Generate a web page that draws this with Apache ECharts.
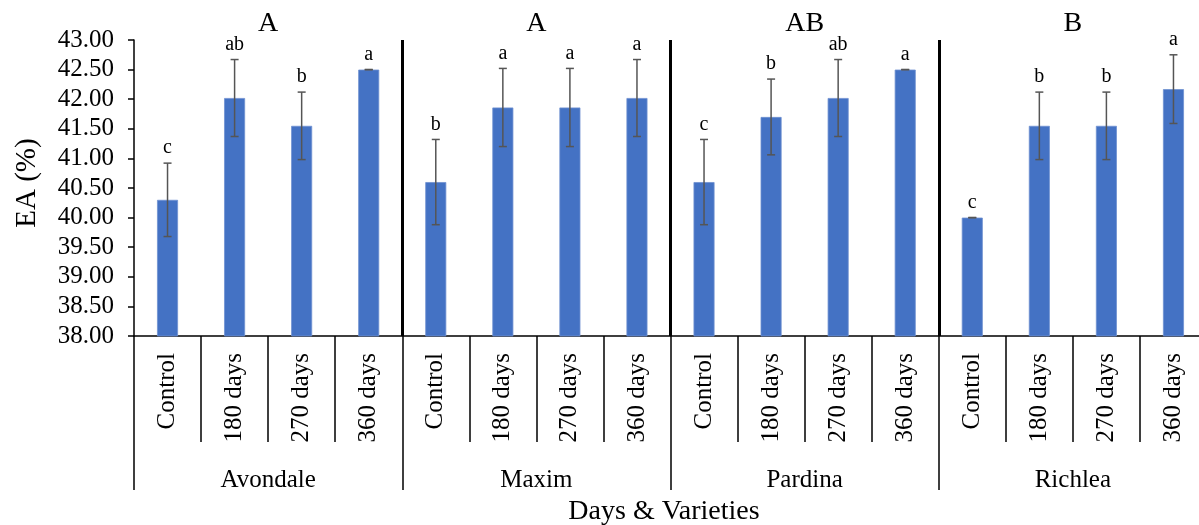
<!DOCTYPE html>
<html>
<head>
<meta charset="utf-8">
<script src="https://cdn.jsdelivr.net/npm/echarts@6/dist/echarts.min.js"></script>
<style>
  html, body { margin: 0; padding: 0; background: #fff; }
  #chart { width: 1199px; height: 525px; }
</style>
</head>
<body>
<div id="chart"></div>
<script>
// Storage periods within each variety
const days = ['Control', '180 days', '270 days', '360 days'];
const varieties = ['Avondale', 'Maxim', 'Pardina', 'Richlea'];
// Letters for the variety comparison
const varietyGroups = ['A', 'A', 'AB', 'B'];

// EA (%) means, standard deviations and significance letters, in variety order
const means = [40.30, 42.02, 41.55, 42.50,
               40.60, 41.86, 41.86, 42.02,
               40.60, 41.70, 42.02, 42.50,
               40.00, 41.55, 41.55, 42.17];
const errors = [0.62, 0.65, 0.57, 0.00,
                0.72, 0.66, 0.66, 0.65,
                0.72, 0.64, 0.65, 0.00,
                0.00, 0.57, 0.57, 0.58];
const letters = ['c', 'ab', 'b', 'a',
                 'b', 'a', 'a', 'a',
                 'c', 'b', 'ab', 'a',
                 'c', 'b', 'b', 'a'];

const yTicks = { min: 38, max: 43, step: 0.5 };

const categories = [];
varieties.forEach(() => days.forEach(d => categories.push(d)));
const errData = means.map((m, i) => [i, m - errors[i], m + errors[i], letters[i]]);

const SERIF = '"Liberation Serif", "Times New Roman", serif';

const chart = echarts.init(document.getElementById('chart'));
chart.setOption({
  animation: false,
  backgroundColor: '#ffffff',
  // the last category runs slightly past the right edge of the page
  grid: {
    left: 134, top: 40, bottom: 189, width: 1073,
    containLabel: false, outerBoundsMode: 'none'
  },
  xAxis: [
    {
      type: 'category',
      data: categories,
      position: 'bottom',
      axisLine: { show: true, lineStyle: { color: '#000', width: 1.5 } },
      axisTick: { show: true, interval: 0, length: 106, lineStyle: { color: '#000', width: 1.5 } },
      axisLabel: {
        interval: 0, rotate: 90, margin: 17,
        fontFamily: SERIF, fontSize: 25, color: '#000'
      },
      splitLine: { show: false }
    },
    {
      type: 'category',
      data: varieties,
      position: 'bottom',
      axisLine: { show: false },
      axisTick: { show: true, interval: 0, length: 154, lineStyle: { color: '#000', width: 1.5 } },
      axisLabel: { interval: 0, margin: 132, fontFamily: SERIF, fontSize: 25, color: '#000' },
      splitLine: {
        show: true, interval: 0, showMinLine: false, showMaxLine: false,
        lineStyle: { color: '#000', width: 3 }
      },
      name: 'Days & Varieties',
      nameLocation: 'middle',
      nameGap: 159,
      nameTextStyle: { fontFamily: SERIF, fontSize: 28, color: '#000', padding: [0, 13, 0, 0] }
    },
    {
      type: 'category',
      data: varietyGroups,
      position: 'top',
      axisLine: { show: false },
      axisTick: { show: false },
      axisLabel: { interval: 0, margin: 2, fontFamily: SERIF, fontSize: 28, color: '#000' },
      splitLine: { show: false }
    }
  ],
  yAxis: {
    type: 'value',
    min: yTicks.min,
    max: yTicks.max,
    interval: yTicks.step,
    axisLine: { show: true, lineStyle: { color: '#000', width: 1.5 } },
    axisTick: { show: true, length: 6, lineStyle: { color: '#000', width: 1.5 } },
    axisLabel: {
      margin: 20, fontFamily: SERIF, fontSize: 25, color: '#000',
      formatter: v => v.toFixed(2)
    },
    splitLine: { show: false },
    name: 'EA (%)',
    nameLocation: 'middle',
    nameGap: 92,
    nameTextStyle: { fontFamily: SERIF, fontSize: 29, color: '#000', padding: [0, 0, 0, 10] }
  },
  series: [
    {
      type: 'bar',
      xAxisIndex: 0,
      data: means,
      barWidth: 21,
      itemStyle: { color: '#4472C4', borderColor: '#6f90d0', borderWidth: 0.8 }
    },
    {
      type: 'custom',
      xAxisIndex: 0,
      data: errData,
      z: 10,
      renderItem: (params, api) => {
        const x = api.value(0);
        const lo = api.coord([x, api.value(1)]);
        const hi = api.coord([x, api.value(2)]);
        const cap = 4;
        const stroke = { stroke: '#555', lineWidth: 1.5 };
        return {
          type: 'group',
          children: [
            { type: 'line', shape: { x1: hi[0], y1: hi[1], x2: lo[0], y2: lo[1] }, style: stroke },
            { type: 'line', shape: { x1: hi[0] - cap, y1: hi[1], x2: hi[0] + cap, y2: hi[1] }, style: stroke },
            { type: 'line', shape: { x1: lo[0] - cap, y1: lo[1], x2: lo[0] + cap, y2: lo[1] }, style: stroke },
            {
              type: 'text',
              style: {
                text: api.value(3), x: hi[0], y: hi[1] - 5,
                align: 'center', verticalAlign: 'bottom',
                fontFamily: SERIF, fontSize: 20, fill: '#000'
              }
            }
          ]
        };
      }
    }
  ]
});
</script>
</body>
</html>
